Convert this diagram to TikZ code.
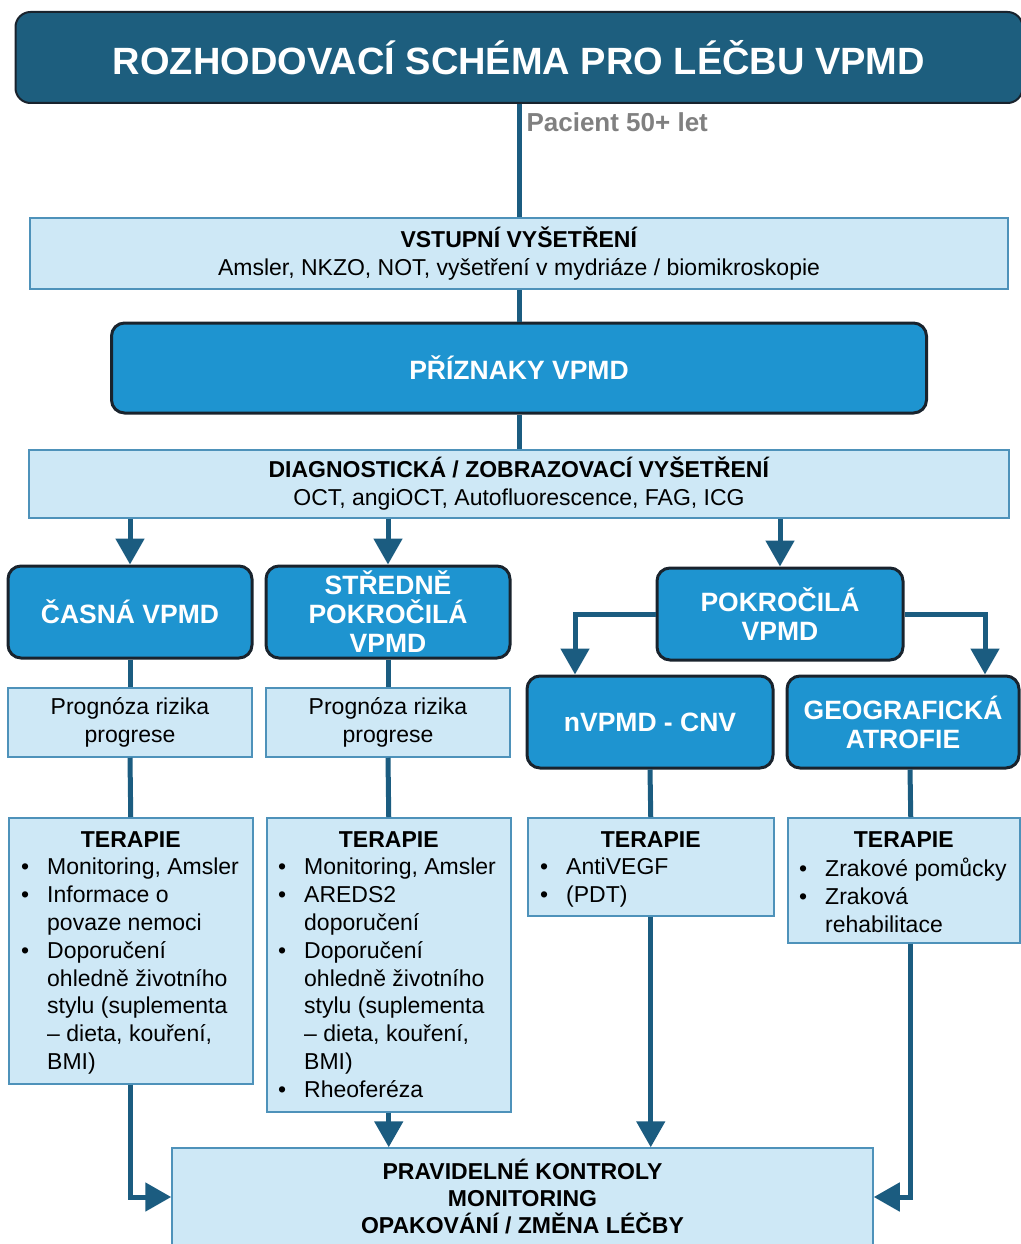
\documentclass[tikz,border=0pt]{standalone}
\usepackage{fontspec}
\setmainfont{Liberation Sans}
\usetikzlibrary{arrows.meta,positioning}
\definecolor{titleblue}{RGB}{29,94,126}
\definecolor{lineblue}{RGB}{27,92,128}
\definecolor{midblue}{RGB}{30,148,208}
\definecolor{paleblue}{RGB}{206,232,246}
\definecolor{edgeblue}{RGB}{78,146,186}
\definecolor{edgedark}{RGB}{25,35,45}
\newcommand{\bul}{\makebox[26pt][l]{\textbullet}}
\newcommand{\cont}{\hspace*{26pt}}
\tikzset{
  conn/.style={line width=5pt, draw=lineblue},
  arr/.style={conn, -{Triangle[length=26pt,width=28pt]}},
  titlebox/.style={draw=edgedark, line width=2pt, fill=titleblue, rounded corners=15pt, text=white,
    font=\fontsize{38}{44}\selectfont\bfseries, minimum width=1007pt, minimum height=91pt},
  bluebox/.style={draw=edgedark, line width=3pt, fill=midblue, rounded corners=13pt, text=white,
    align=center, font=\fontsize{26.5}{29}\selectfont\bfseries},
  stage/.style={bluebox, minimum width=244pt, minimum height=92pt},
  lightbox/.style={draw=edgeblue, line width=1.5pt, fill=paleblue, align=center,
    font=\fontsize{23}{28}\selectfont},
  hdr/.style={inner sep=0pt, font=\fontsize{23}{28}\selectfont\bfseries},
  lst/.style={inner sep=0pt, anchor=north west, align=left, font=\fontsize{23}{27.8}\selectfont},
  patlbl/.style={text=black!50, font=\fontsize{26}{30}\selectfont\bfseries}
}
\begin{document}
\begin{tikzpicture}[x=1pt,y=-1pt]
\useasboundingbox (0,0) rectangle (1020,1244);
\node[titlebox] (title) at (519,57.5) {ROZHODOVACÍ SCHÉMA PRO LÉČBU VPMD};
\node[patlbl, anchor=west] (pat) at (523,122) {Pacient 50+ let};
\node[lightbox, minimum width=978pt, minimum height=71pt] (vstup) at (519,253.5)
  {\textbf{VSTUPNÍ VYŠETŘENÍ}\\Amsler, NKZO, NOT, vyšetření v mydriáze / biomikroskopie};
\node[bluebox, minimum width=815pt, minimum height=90pt] (priz) at (519,368) {PŘÍZNAKY VPMD};
\node[lightbox, minimum width=980pt, minimum height=68pt] (diag) at (519,484)
  {\textbf{DIAGNOSTICKÁ / ZOBRAZOVACÍ VYŠETŘENÍ}\\OCT, angiOCT, Autofluorescence, FAG, ICG};
\node[stage] (casna) at (130,612) {ČASNÁ VPMD};
\node[stage] (stred) at (388,612) {STŘEDNĚ\\POKROČILÁ\\VPMD};
\node[stage, minimum width=246pt] (pokr) at (780,614) {POKROČILÁ\\VPMD};
\node[stage, minimum width=246pt] (nvpmd) at (650,722) {nVPMD - CNV};
\node[stage, minimum width=232pt] (geo) at (903,722) {GEOGRAFICKÁ\\ATROFIE};
\node[lightbox, minimum width=244pt, minimum height=69pt] (prog1) at (130,722.5) {Prognóza rizika\\progrese};
\node[lightbox, minimum width=244pt, minimum height=69pt] (prog2) at (388,722.5) {Prognóza rizika\\progrese};
\node[lightbox, anchor=north west, minimum width=244pt, minimum height=266pt] (ter1) at (8,817) {};
\node[lightbox, anchor=north west, minimum width=244pt, minimum height=294pt] (ter2) at (266,817) {};
\node[lightbox, anchor=north west, minimum width=246pt, minimum height=98pt] (ter3) at (527,817) {};
\node[lightbox, anchor=north west, minimum width=232pt, minimum height=125pt] (ter4) at (787,817) {};
\node[hdr, below=14pt of ter1.north] (h1) {TERAPIE};
\node[hdr, below=14pt of ter2.north] (h2) {TERAPIE};
\node[hdr, below=14pt of ter3.north] (h3) {TERAPIE};
\node[hdr, below=14pt of ter4.north] (h4) {TERAPIE};
\node[lst] (l1) at ([xshift=13pt,yshift=-41pt]ter1.north west)
  {\bul Monitoring, Amsler\\\bul Informace o\\\cont povaze nemoci\\\bul Doporučení\\
   \cont ohledně životního\\\cont stylu (suplementa\\\cont – dieta, kouření,\\\cont BMI)};
\node[lst] (l2) at ([xshift=12pt,yshift=-41pt]ter2.north west)
  {\bul Monitoring, Amsler\\\bul AREDS2\\\cont doporučení\\\bul Doporučení\\
   \cont ohledně životního\\\cont stylu (suplementa\\\cont – dieta, kouření,\\\cont BMI)\\\bul Rheoferéza};
\node[lst] (l3) at ([xshift=13pt,yshift=-41pt]ter3.north west) {\bul AntiVEGF\\\bul (PDT)};
\node[lst] (l4) at ([xshift=12pt,yshift=-41pt]ter4.north west)
  {\bul Zrakové pomůcky\\\bul Zraková\\\cont rehabilitace};
\node[lightbox, font=\fontsize{23}{27}\selectfont\bfseries, minimum width=701pt, minimum height=98pt]
  (kontr) at (522.5,1197) {PRAVIDELNÉ KONTROLY\\MONITORING\\OPAKOVÁNÍ / ZMĚNA LÉČBY};
\draw[conn] (title.south) -- (vstup.north);
\draw[conn] (vstup.south) -- (priz.north);
\draw[conn] (priz.south) -- (diag.north);
\draw[arr] (diag.south -| casna.north) -- (casna.north);
\draw[arr] (diag.south -| stred.north) -- (stred.north);
\draw[arr] (diag.south -| pokr.north) -- (pokr.north);
\draw[arr] (pokr.west) -| ([xshift=-75pt]nvpmd.north);
\draw[arr] (pokr.east) -| ([xshift=82pt]geo.north);
\draw[conn] (casna.south) -- (prog1.north);
\draw[conn] (stred.south) -- (prog2.north);
\draw[conn] (prog1.south) -- (ter1.north);
\draw[conn] (prog2.south) -- (ter2.north);
\draw[conn] (nvpmd.south) -- (ter3.north);
\draw[conn] ([xshift=7pt]geo.south) -- ([xshift=7pt]ter4.north);
\draw[arr] (ter1.south) |- (kontr.west);
\draw[arr] (ter2.south) -- (ter2.south |- kontr.north);
\draw[arr] (ter3.south) -- (ter3.south |- kontr.north);
\draw[arr] ([xshift=7pt]ter4.south) |- (kontr.east);
\end{tikzpicture}
\end{document}
